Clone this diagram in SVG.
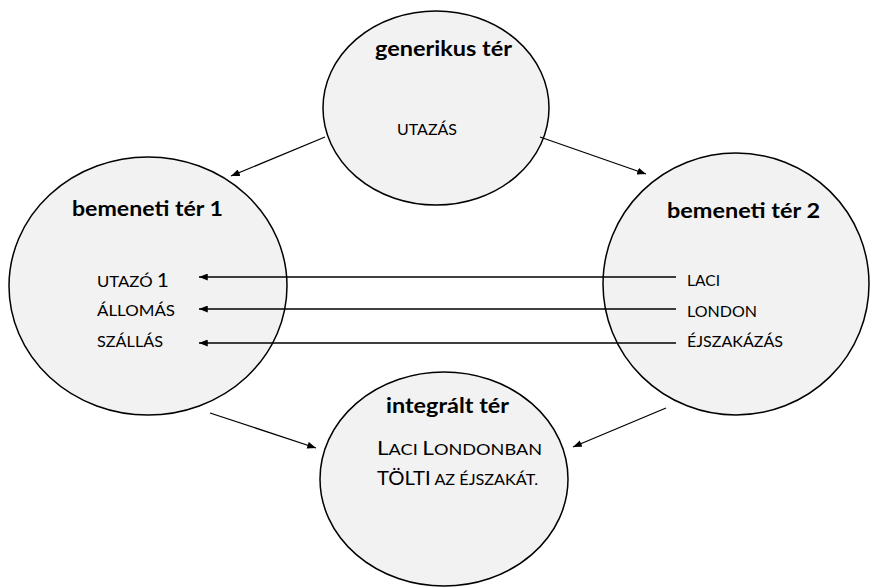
<svg xmlns="http://www.w3.org/2000/svg" width="872" height="588" viewBox="0 0 872 588">
<defs>
<marker id="ah" viewBox="0 0 10 8" refX="10" refY="4" markerWidth="9" markerHeight="7" markerUnits="userSpaceOnUse" orient="auto">
<path d="M0,0 L10,4 L0,8 z" fill="#000"/>
</marker>
<style>
.space{fill:#f2f2f2;stroke:#000;stroke-width:1.5}
.title{font-family:Lato,"Open Sans","Liberation Sans",sans-serif;font-weight:bold;font-size:20px;fill:#000}
.item{font-family:Lato,"Open Sans","Liberation Sans",sans-serif;font-size:16px;fill:#000}
.big{font-size:20px}
.conn{stroke:#000;stroke-width:1.3;fill:none;marker-end:url(#ah)}
</style>
</defs>
<rect width="872" height="588" fill="#fff"/>
<g id="generic">
<ellipse class="space" cx="436" cy="108" rx="113" ry="97"/>
<text class="title" x="375" y="56" textLength="137" lengthAdjust="spacingAndGlyphs">generikus tér</text>
<text class="item" x="397" y="135" textLength="60" lengthAdjust="spacingAndGlyphs">UTAZÁS</text>
</g>
<g id="input1">
<ellipse class="space" cx="148" cy="286" rx="139" ry="129"/>
<text class="title" x="72" y="216" textLength="151" lengthAdjust="spacingAndGlyphs">bemeneti tér 1</text>
<text class="item" x="97" y="287" textLength="72" lengthAdjust="spacingAndGlyphs">UTAZÓ <tspan class="big">1</tspan></text>
<text class="item" x="97" y="316" textLength="78" lengthAdjust="spacingAndGlyphs">ÁLLOMÁS</text>
<text class="item" x="97" y="347" textLength="66" lengthAdjust="spacingAndGlyphs">SZÁLLÁS</text>
</g>
<g id="input2">
<ellipse class="space" cx="736" cy="284" rx="133" ry="131"/>
<text class="title" x="667" y="218" textLength="153" lengthAdjust="spacingAndGlyphs">bemeneti tér 2</text>
<text class="item" x="687" y="286" textLength="33" lengthAdjust="spacingAndGlyphs">LACI</text>
<text class="item" x="687" y="317" textLength="70" lengthAdjust="spacingAndGlyphs">LONDON</text>
<text class="item" x="687" y="347" textLength="96" lengthAdjust="spacingAndGlyphs">ÉJSZAKÁZÁS</text>
</g>
<g id="blend">
<ellipse class="space" cx="444" cy="479" rx="124" ry="107"/>
<text class="title" x="386" y="413" textLength="123" lengthAdjust="spacingAndGlyphs">integrált tér</text>
<text class="item" x="377" y="455" textLength="165" lengthAdjust="spacingAndGlyphs"><tspan class="big">L</tspan>ACI <tspan class="big">L</tspan>ONDONBAN</text>
<text class="item" x="377" y="485" textLength="161" lengthAdjust="spacingAndGlyphs"><tspan class="big">TÖLTI</tspan> AZ ÉJSZAKÁT.</text>
</g>
<g id="connectors">
<line class="conn" x1="325" y1="137" x2="231" y2="176"/>
<line class="conn" x1="540" y1="137" x2="646" y2="174"/>
<line class="conn" x1="210" y1="413" x2="316" y2="448"/>
<line class="conn" x1="666" y1="408" x2="573" y2="447"/>
<line class="conn" x1="676" y1="277" x2="199" y2="277"/>
<line class="conn" x1="676" y1="309" x2="199" y2="309"/>
<line class="conn" x1="676" y1="343" x2="199" y2="343"/>
</g>
</svg>
